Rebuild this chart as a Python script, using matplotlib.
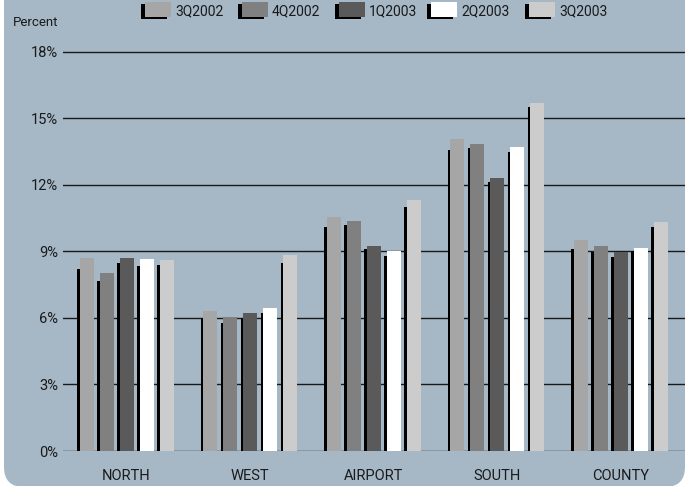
import matplotlib
matplotlib.use("Agg")
import matplotlib.pyplot as plt
from matplotlib.patches import FancyBboxPatch, Rectangle
import numpy as np

plt.rcParams['font.family'] = ['Roboto', 'DejaVu Sans']

regions = ['NORTH', 'WEST', 'AIRPORT', 'SOUTH', 'COUNTY']
quarters = ['3Q2002', '4Q2002', '1Q2003', '2Q2003', '3Q2003']

# values (percent)
q3_2002 = [8.69, 6.33, 10.54, 14.07, 9.50]
q4_2002 = [8.01, 6.05, 10.36, 13.85, 9.23]
q1_2003 = [8.69, 6.24, 9.23, 12.31, 8.96]
q2_2003 = [8.64, 6.47, 9.00, 13.71, 9.14]
q3_2003 = [8.60, 8.82, 11.31, 15.70, 10.32]

# heights of the black drop shadows beside each bar
sh_3q02 = [8.19, 6.02, 10.09, 13.57, 9.10]
sh_4q02 = [7.65, 5.79, 10.18, 13.67, 8.96]
sh_1q03 = [8.46, 6.02, 9.10, 12.13, 8.73]
sh_2q03 = [8.33, 6.24, 8.78, 13.48, 9.00]
sh_3q03 = [8.37, 8.46, 11.00, 15.52, 10.09]

yticks = [0, 3, 6, 9, 12, 15, 18]
ytick_labels = ['0%', '3%', '6%', '9%', '12%', '15%', '18%']

series = [q3_2002, q4_2002, q1_2003, q2_2003, q3_2003]
shadows = [sh_3q02, sh_4q02, sh_1q03, sh_2q03, sh_3q03]
colors = ['#a6a6a6', '#808080', '#5a5a5a', '#ffffff', '#cccccc']
panel_color = '#a6b7c6'
text_color = '#1a1a1a'

W, H = 691, 486
fig = plt.figure(figsize=(W / 100, H / 100), dpi=100)
fig.patch.set_facecolor('white')

# blue-grey panel with rounded bottom corners (pixel coords)
panel = FancyBboxPatch((4, -1), 681, H + 40,
                       boxstyle='round,pad=0,rounding_size=20',
                       transform=None, facecolor=panel_color,
                       edgecolor='none', zorder=-5)
fig.patches.append(panel)

ax = fig.add_axes([63 / W, (H - 451) / H, 622 / W, 411 / H])
ax.set_zorder(2)
ax.patch.set_visible(False)
for s in ax.spines.values():
    s.set_visible(False)

pitch_px = 123.6
bar_step = 20 / pitch_px
bar_w = 14 / pitch_px
shadow_off = 2.5 / pitch_px

x = np.arange(len(regions))
for j, (vals, shd, c) in enumerate(zip(series, shadows, colors)):
    centers = x + (j - 2) * bar_step
    ax.bar(centers - shadow_off, shd, width=bar_w, color='black', zorder=2)
    ax.bar(centers, vals, width=bar_w, color=c, zorder=3)

for t in yticks:
    ax.axhline(t, color='#1a1a1a', lw=1.0, zorder=1)

ax.set_xlim((63 - 126.5) / pitch_px, (685 - 126.5) / pitch_px)
ax.set_ylim(0, (451 - 40) / 22.17)
ax.set_yticks(yticks)
ax.set_yticklabels(ytick_labels, fontsize=10.5, color=text_color)
ax.set_xticks(x)
ax.set_xticklabels(regions, fontsize=10.5, color=text_color)
ax.tick_params(axis='y', length=0, pad=3.6)
ax.tick_params(axis='x', length=0, pad=13)

fig.text(13 / W, 1 - 22 / H, 'Percent', fontsize=9.5, color=text_color,
         ha='left', va='center')

# legend with drop-shadow swatches
leg_x = [145, 242, 339, 431, 529]
for lx, lab, c in zip(leg_x, quarters, colors):
    fig.patches.append(Rectangle((lx - 4, H - 19), 26, 15, transform=None,
                                 facecolor='black', edgecolor='none', zorder=1))
    fig.patches.append(Rectangle((lx, H - 17), 26, 15, transform=None,
                                 facecolor=c, edgecolor='none', zorder=2))
    fig.text((lx + 30) / W, 1 - 11 / H, lab, fontsize=10, color=text_color,
             ha='left', va='center')

fig.savefig('out.png', dpi=100, facecolor=fig.get_facecolor())
